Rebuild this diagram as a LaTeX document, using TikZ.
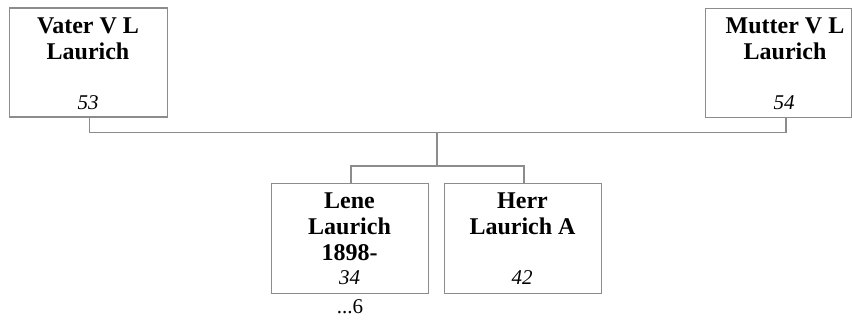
\documentclass[tikz,border=0pt]{standalone}
\usepackage{fontspec}
\setmainfont{Liberation Serif}
\definecolor{linegray}{RGB}{140,140,140}
\begin{document}
\begin{tikzpicture}[x=1pt,y=-1pt,
  person/.style={draw=linegray, line width=1.3pt, fill=white, inner sep=0pt, anchor=north west},
  nametext/.style={anchor=base, inner sep=0pt, font=\fontsize{24}{26}\selectfont\bfseries},
  numtext/.style={anchor=base, inner sep=0pt, font=\fontsize{21}{24}\selectfont\itshape},
  plaintext/.style={anchor=base, inner sep=0pt, font=\fontsize{21}{24}\selectfont},
  conn/.style={draw=linegray, line width=1.3pt}]
\useasboundingbox (0,0) rectangle (852,323);
% boxes
\node[person, minimum width=158pt, minimum height=109pt] (father) at (9,7.5) {};
\node[person, minimum width=146pt, minimum height=109pt] (mother) at (705,8) {};
\node[person, minimum width=157pt, minimum height=110pt] (lene) at (271,183) {};
\node[person, minimum width=157pt, minimum height=110pt] (herr) at (444,183) {};
% connectors
\coordinate (fb) at (89.5,132.5);
\coordinate (mb) at (786,132.5);
\coordinate (mid) at (437,132.5);
\coordinate (kid) at (437,166);
\coordinate (lk) at (351,166);
\coordinate (hk) at (524,166);
\draw[conn] (father.south -| fb) -- (fb) -- (mb) -- (mother.south -| mb);
\draw[conn] (mid) -- (kid);
\draw[conn] (lene.north -| lk) -- (lk) -- (hk) -- (herr.north -| hk);
% texts
\node[nametext] (fname1) at (88,33.3) {Vater V L};
\node[nametext] (fname2) at (88,59.3) {Laurich};
\node[numtext] (fnum) at (88,109.5) {53};
\node[nametext] (mname1) at (785,33.3) {Mutter V L};
\node[nametext] (mname2) at (785,59.3) {Laurich};
\node[numtext] (mnum) at (784,109.5) {54};
\node[nametext] (lname1) at (349.5,208.8) {Lene};
\node[nametext] (lname2) at (349.5,234.8) {Laurich};
\node[nametext] (lname3) at (349.5,260.8) {1898-};
\node[numtext] (lnum) at (349.5,284.5) {34};
\node[nametext] (hname1) at (522.5,208.8) {Herr};
\node[nametext] (hname2) at (522.5,234.8) {Laurich A};
\node[numtext] (hnum) at (522,284.5) {42};
\node[plaintext] (more) at (350,313.5) {...6};
\end{tikzpicture}
\end{document}
